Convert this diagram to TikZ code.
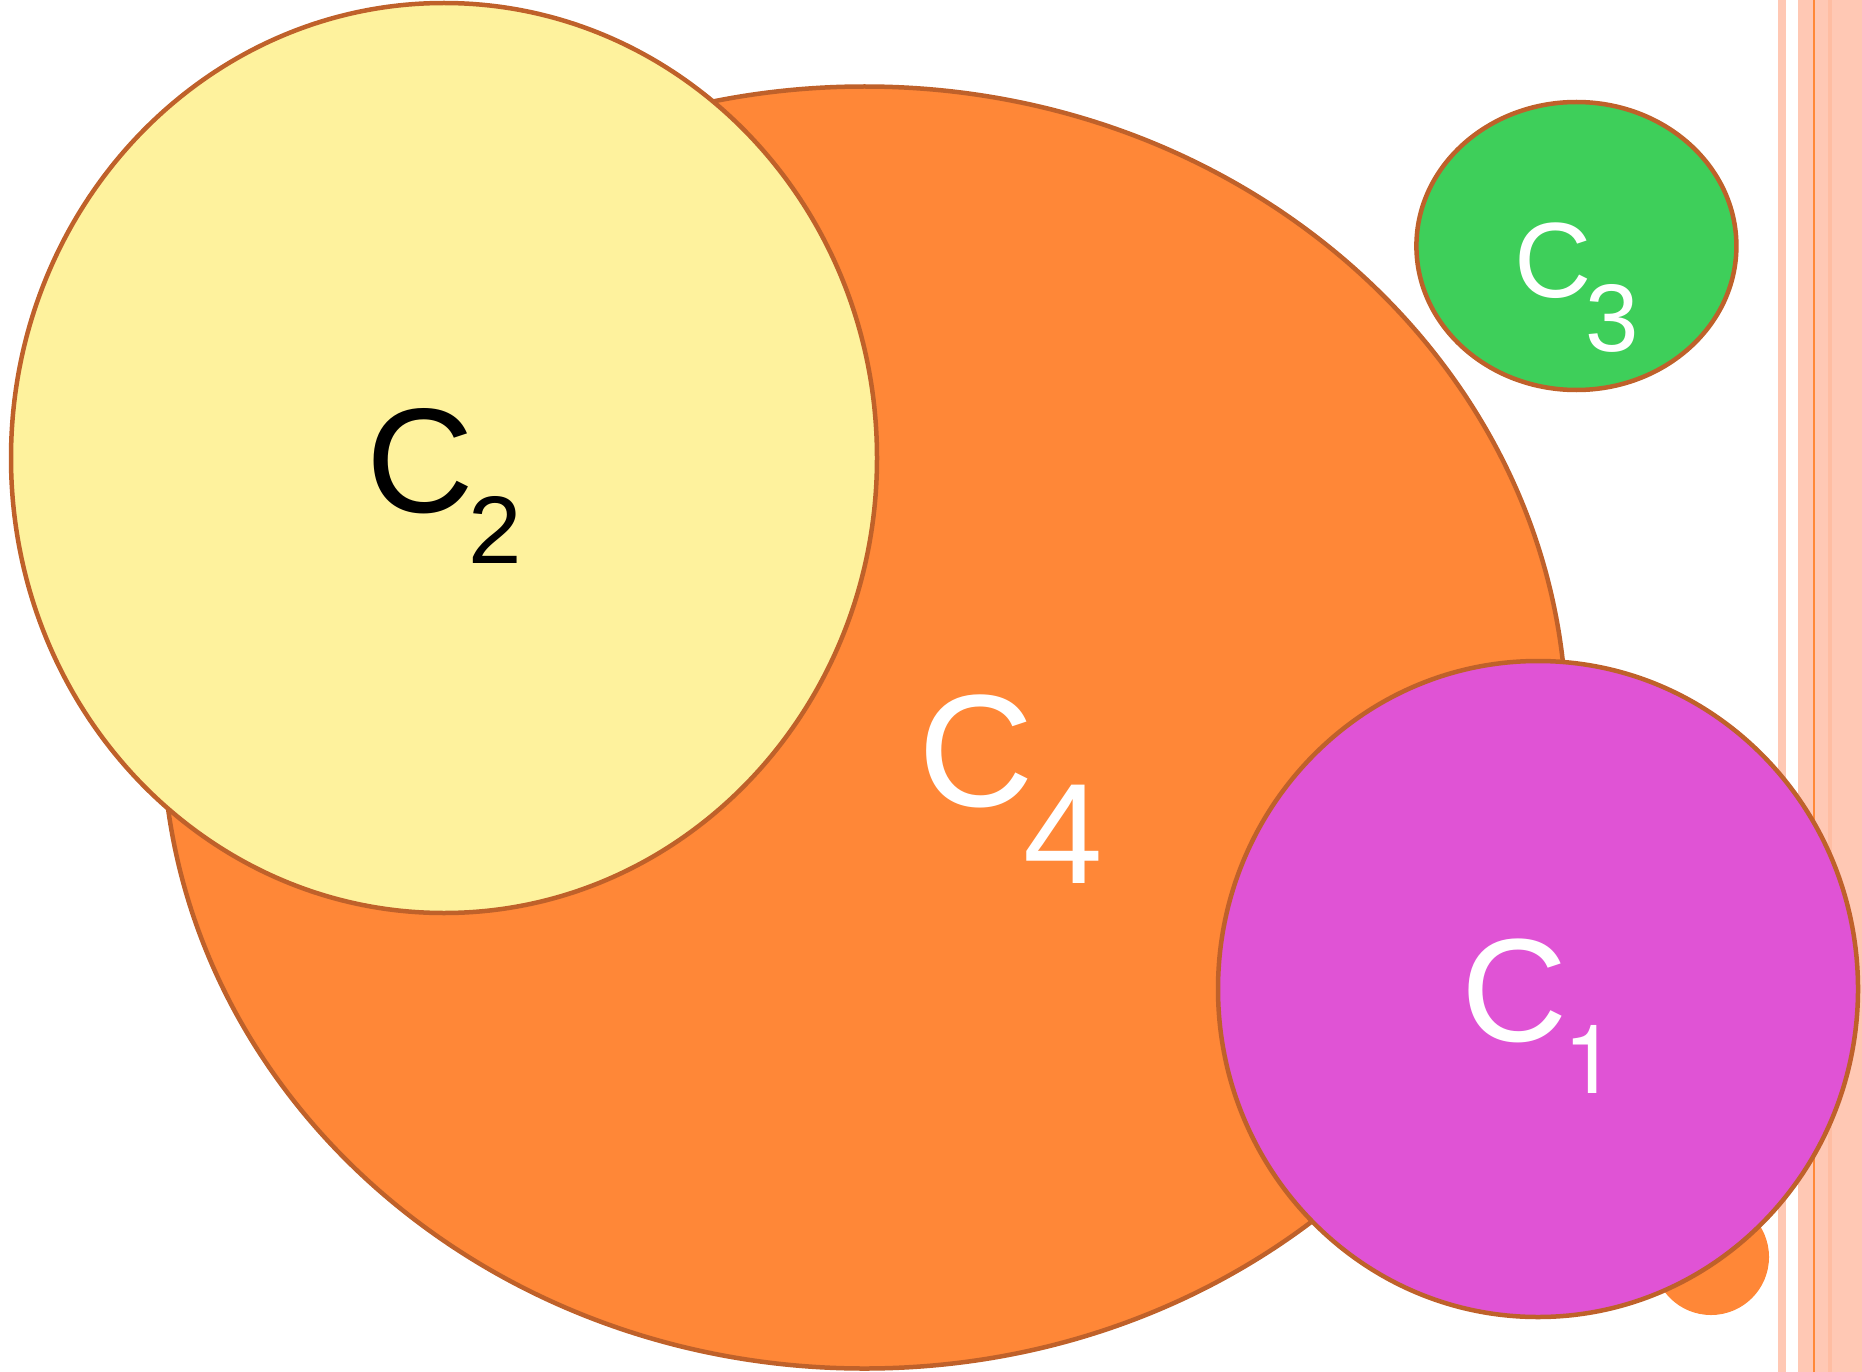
\documentclass[tikz,border=0pt]{standalone}
\usepackage{fontspec}
\setmainfont{Liberation Sans}
\newfontfamily\heros{TeX Gyre Heros}
\definecolor{cfour}{HTML}{FF8737}
\definecolor{ctwo}{HTML}{FEF29D}
\definecolor{cthree}{HTML}{3ECF5A}
\definecolor{cone}{HTML}{E053D5}
\definecolor{rim}{HTML}{BF612A}
\definecolor{stripe}{HTML}{FFC8B4}
\definecolor{stripedark}{HTML}{FFBDA2}
\definecolor{stripeline}{HTML}{FF8838}
\tikzset{
  blob/.style={draw=rim, line width=4.5pt},
  lbl/.style={anchor=base west, inner sep=0pt, outer sep=0pt},
}
\newcommand{\fsz}[1]{\fontsize{#1}{#1}\selectfont}
\begin{document}
\begin{tikzpicture}[x=1pt,y=-1pt]
\useasboundingbox (0,0) rectangle (1862,1372);
% right stripes
\fill[stripe] (1778,0) rectangle (1786,1372);
\fill[stripe] (1798,0) rectangle (1862,1372);
\fill[stripedark] (1828,0) rectangle (1832,1372);
\fill[stripeline] (1813,0) rectangle (1815,1372);
% C4
\filldraw[blob, fill=cfour] (864.5,727.5) ellipse [x radius=702pt, y radius=641pt];
% small orange circle
\fill[cfour] (1711,1257) circle [radius=58pt];
% C2
\filldraw[blob, fill=ctwo] (444,458) ellipse [x radius=433pt, y radius=455pt];
% C3
\filldraw[blob, fill=cthree] (1576.4,246) ellipse [x radius=160pt, y radius=144pt];
% C1
\filldraw[blob, fill=cone] (1538,989) ellipse [x radius=320pt, y radius=328pt];
% labels
\node[lbl, text=white] (c4) at (918,806) {\fsz{160}C};
\node[lbl, text=white] (c4s) at (1023,883.5) {\fsz{143}4};
\node[lbl, text=black] (c2) at (366,512) {\fsz{149}C};
\node[lbl, text=black] (c2s) at (468,563) {\fsz{96}2};
\node[lbl, text=white] (c3) at (1514,298) {\fsz{107}C};
\node[lbl, text=white] (c3s) at (1585,351.5) {\fsz{96}3};
\node[lbl, text=white] (c1) at (1461,1041.5) {\fsz{147}C};
\node[lbl, text=white] (c1s) at (1563,1093.7) {\heros\fsz{96}1};
\end{tikzpicture}
\end{document}
